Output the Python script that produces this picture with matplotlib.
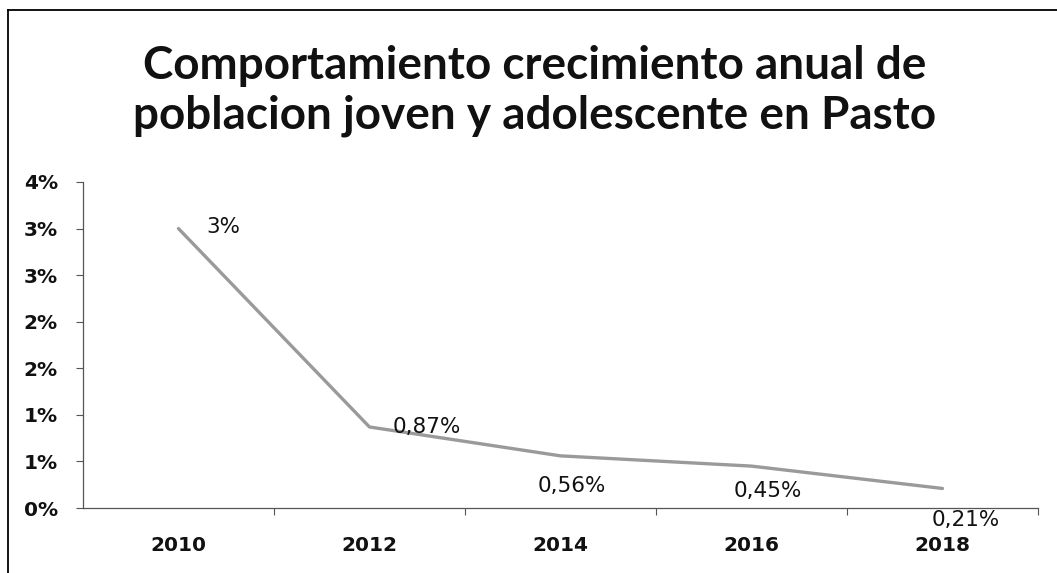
import matplotlib
matplotlib.use("Agg")
import math
import matplotlib.pyplot as plt
from matplotlib.lines import Line2D
from matplotlib.ticker import FixedLocator, FuncFormatter


YEARS = ["2010", "2012", "2014", "2016", "2018"]
GROWTH = [3.0, 0.87, 0.56, 0.45, 0.21]
POINT_LABELS = ["3%", "0,87%", "0,56%", "0,45%", "0,21%"]

TITLE = "Comportamiento crecimiento anual de\npoblacion joven y adolescente en Pasto"

# label offsets in points (right for the first two, below for the rest)
LABEL_OFFSETS = [(20, 1), (17, 0), (8, -22), (12, -18), (17, -23)]
LABEL_HA = ["left", "left", "center", "center", "center"]


def pct_label(v, pos):
    return f"{math.floor(v + 0.5 + 1e-9)}%"


def plot_chart():
    fig = plt.figure(figsize=(10.57, 5.73), dpi=100)
    ax = fig.add_axes([0.0785, 0.1134, 0.9035, 0.569])

    x = list(range(len(YEARS)))
    ax.plot(x, GROWTH, color="#9a9a9a", lw=2.4, solid_capstyle="round")

    for i, (val, txt) in enumerate(zip(GROWTH, POINT_LABELS)):
        ax.annotate(txt, (i, val), xytext=LABEL_OFFSETS[i], textcoords="offset points",
                    ha=LABEL_HA[i], va="center", fontsize=15.5, color="#111111")

    ax.set_xlim(-0.5, len(YEARS) - 0.5)
    ax.set_ylim(0, 3.5)

    ax.set_yticks([i * 0.5 for i in range(8)])
    ax.yaxis.set_major_formatter(FuncFormatter(pct_label))

    ax.set_xticks(x)
    ax.set_xticklabels(YEARS)
    ax.xaxis.set_minor_locator(FixedLocator([i + 0.5 for i in range(len(YEARS))]))
    ax.tick_params(axis="x", which="major", length=0, pad=20)
    ax.tick_params(axis="x", which="minor", length=5, width=0.8, color="#555555", direction="out")
    ax.tick_params(axis="y", length=5, width=0.8, color="#555555", pad=13)

    for lab in ax.get_xticklabels() + ax.get_yticklabels():
        lab.set_fontweight("bold")
        lab.set_fontsize(14.5)
        lab.set_color("#111111")

    for side in ["top", "right"]:
        ax.spines[side].set_visible(False)
    for side in ["left", "bottom"]:
        ax.spines[side].set_color("#555555")
        ax.spines[side].set_linewidth(0.9)

    fig.text(0.506, 0.842, TITLE, ha="center", va="center", fontsize=33,
             fontweight="bold", family="Lato", linespacing=1.22, color="#111111")

    # outer chart frame (left and top edges)
    fig.add_artist(Line2D([8 / 1057, 8 / 1057], [0, 1 - 10 / 573], color="black", lw=1.3))
    fig.add_artist(Line2D([8 / 1057, 1], [1 - 10 / 573, 1 - 10 / 573], color="black", lw=1.3))

    fig.savefig("out.png", dpi=100)


if __name__ == "__main__":
    plot_chart()
